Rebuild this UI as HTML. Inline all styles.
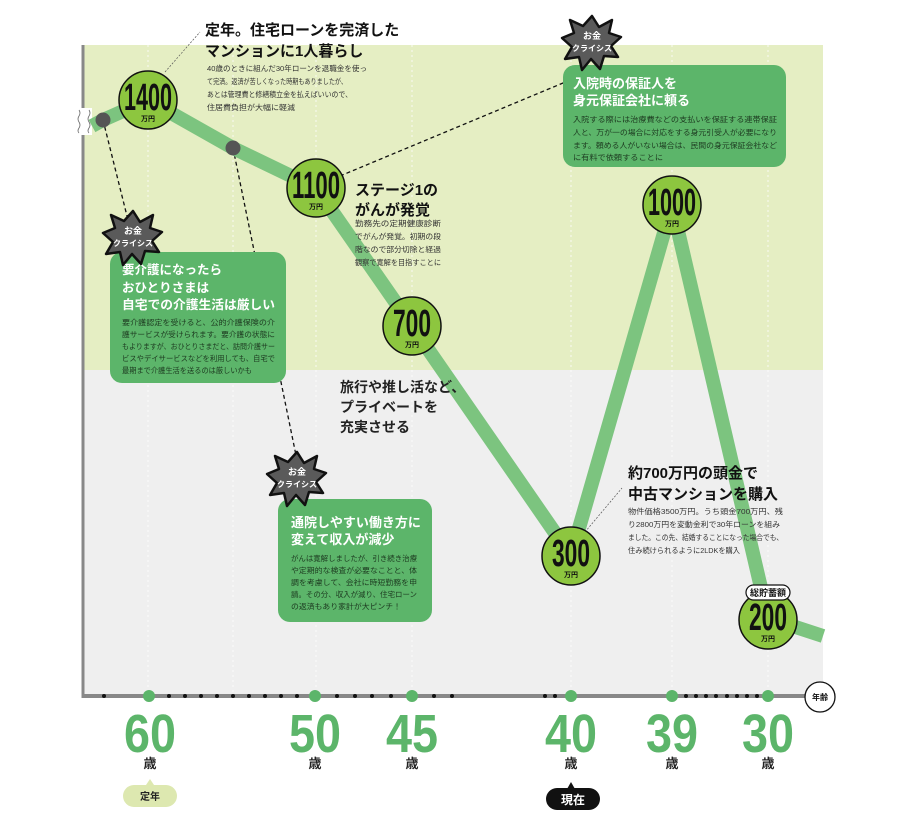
<!DOCTYPE html>
<html><head><meta charset="utf-8"><style>
html,body{margin:0;padding:0;background:#fff;}
svg{display:block;font-family:"Liberation Sans","Noto Sans CJK JP",sans-serif;}
.t{font-weight:bold;fill:#111;}
.b{font-size:7.5px;fill:#333;}
.w{font-weight:bold;fill:#fff;font-size:13px;}
.n{font-weight:bold;fill:#111;}
.age{font-weight:bold;fill:#5cb56a;font-size:54px;}
.sai{font-weight:bold;fill:#222;font-size:13px;}
</style></head><body>
<svg width="919" height="826" viewBox="0 0 919 826">
<defs>
<g id="burst">
<polygon points="0,-26 7,-15 20,-22 17,-9 29,-5 19,4 26,15 12,14 8,27 -1,17 -10,28 -13,15 -27,17 -20,5 -30,-4 -18,-9 -22,-22 -9,-16" fill="#5a5a5a" stroke="#111" stroke-width="2.5" stroke-linejoin="round"/>
<text x="0" y="-3" text-anchor="middle" font-size="9" font-weight="bold" fill="#fff">お金</text>
<text x="0" y="9" text-anchor="middle" font-size="8" font-weight="bold" fill="#fff">クライシス</text>
</g>
</defs>
<rect x="83" y="45" width="740" height="325" fill="#e5eec3"/>
<rect x="83" y="370" width="740" height="326" fill="#efefef"/>
<g stroke="#fff" stroke-width="1" stroke-dasharray="2,3" opacity="0.8">
<line x1="148" y1="45" x2="148" y2="694"/><line x1="233" y1="45" x2="233" y2="694"/>
<line x1="316" y1="45" x2="316" y2="694"/><line x1="412" y1="45" x2="412" y2="694"/>
<line x1="571" y1="45" x2="571" y2="694"/><line x1="672" y1="45" x2="672" y2="694"/>
<line x1="768" y1="45" x2="768" y2="694"/>
</g>
<line x1="83" y1="45" x2="83" y2="698" stroke="#888" stroke-width="3"/>
<rect x="76" y="108" width="16" height="27" fill="#fff"/>
<path d="M79,110 q2,3 0,6 q-2,3 0,6 q2,3 0,6 q-2,3 0,5" fill="none" stroke="#666" stroke-width="0.8"/>
<path d="M89,110 q2,3 0,6 q-2,3 0,6 q2,3 0,6 q-2,3 0,5" fill="none" stroke="#666" stroke-width="0.8"/>
<line x1="83" y1="696" x2="808" y2="696" stroke="#888" stroke-width="4"/>
<g stroke="#111" stroke-width="1.3" stroke-dasharray="4,3" fill="none">
<line x1="103" y1="120" x2="133" y2="240"/>
<line x1="233" y1="148" x2="298" y2="465"/>
<line x1="340" y1="176" x2="575" y2="78"/>
</g>
<g stroke="#555" stroke-width="0.7" stroke-dasharray="2,1.5" fill="none">
<line x1="165" y1="72" x2="200" y2="32"/>
<line x1="585" y1="532" x2="622" y2="488"/>
</g>
<polyline points="92,126 103,120 148,100 233,148 316,188 412,326 571,556 672,205 768,618 823,636" fill="none" stroke="#7cc47f" stroke-width="14" stroke-linejoin="round"/>
<circle cx="103" cy="120" r="7.5" fill="#555"/>
<circle cx="233" cy="148" r="7.5" fill="#555"/>
<g stroke="#111" stroke-width="1.5" fill="#8dc63f">
<circle cx="148" cy="100" r="29"/><circle cx="316" cy="188" r="29"/>
<circle cx="412" cy="326" r="29"/><circle cx="571" cy="556" r="29"/>
<circle cx="672" cy="205" r="29"/><circle cx="768" cy="620" r="29"/>
</g>
<g class="n">
<text x="124" y="110" font-size="38" textLength="48" lengthAdjust="spacingAndGlyphs">1400</text>
<text x="292" y="198" font-size="38" textLength="48" lengthAdjust="spacingAndGlyphs">1100</text>
<text x="393" y="336" font-size="38" textLength="38" lengthAdjust="spacingAndGlyphs">700</text>
<text x="552" y="566" font-size="38" textLength="38" lengthAdjust="spacingAndGlyphs">300</text>
<text x="648" y="215" font-size="38" textLength="48" lengthAdjust="spacingAndGlyphs">1000</text>
<text x="749" y="630" font-size="38" textLength="38" lengthAdjust="spacingAndGlyphs">200</text>
</g>
<g font-size="7" font-weight="bold" fill="#111" text-anchor="middle">
<text x="148" y="121">万円</text><text x="316" y="209">万円</text><text x="412" y="347">万円</text>
<text x="571" y="577">万円</text><text x="672" y="226">万円</text><text x="768" y="641">万円</text>
</g>
<rect x="746" y="585" width="44" height="15" rx="7.5" fill="#fff" stroke="#111" stroke-width="1.2"/>
<text x="768" y="596" text-anchor="middle" font-size="9" font-weight="bold" fill="#111">総貯蓄額</text>
<text class="t" x="205" y="35" font-size="15">定年。住宅ローンを完済した</text>
<text class="t" x="205" y="56" font-size="15">マンションに1人暮らし</text>
<g class="b">
<text x="207" y="71" textLength="160" lengthAdjust="spacingAndGlyphs">40歳のときに組んだ30年ローンを退職金を使っ</text>
<text x="207" y="84" textLength="140" lengthAdjust="spacingAndGlyphs">て完済。返済が苦しくなった時期もありましたが、</text>
<text x="207" y="97" textLength="145" lengthAdjust="spacingAndGlyphs">あとは管理費と修繕積立金を払えばいいので、</text>
<text x="207" y="110" textLength="88" lengthAdjust="spacingAndGlyphs">住居費負担が大幅に軽減</text>
</g>
<text class="t" x="355" y="195" font-size="15">ステージ1の</text>
<text class="t" x="355" y="215" font-size="15">がんが発覚</text>
<g class="b">
<text x="355" y="226" textLength="86" lengthAdjust="spacingAndGlyphs">勤務先の定期健康診断</text>
<text x="355" y="239" textLength="86" lengthAdjust="spacingAndGlyphs">でがんが発覚。初期の段</text>
<text x="355" y="252" textLength="86" lengthAdjust="spacingAndGlyphs">階なので部分切除と経過</text>
<text x="355" y="265" textLength="86" lengthAdjust="spacingAndGlyphs">観察で寛解を目指すことに</text>
</g>
<g font-size="14" font-weight="bold" fill="#222">
<text x="340" y="392">旅行や推し活など、</text>
<text x="340" y="412">プライベートを</text>
<text x="340" y="432">充実させる</text>
</g>
<rect x="110" y="252" width="176" height="131" rx="12" fill="#5cb56a"/>
<text class="w" x="122" y="274" font-size="12.5" style="font-size:12.5px">要介護になったら</text>
<text class="w" x="122" y="292" style="font-size:12.5px">おひとりさまは</text>
<text class="w" x="122" y="309" style="font-size:12.5px" textLength="153" lengthAdjust="spacingAndGlyphs">自宅での介護生活は厳しい</text>
<g class="b" style="fill:#1d3a20">
<text x="122" y="325" textLength="153" lengthAdjust="spacingAndGlyphs">要介護認定を受けると、公的介護保険の介</text>
<text x="122" y="337" textLength="153" lengthAdjust="spacingAndGlyphs">護サービスが受けられます。要介護の状態に</text>
<text x="122" y="349" textLength="153" lengthAdjust="spacingAndGlyphs">もよりますが、おひとりさまだと、訪問介護サー</text>
<text x="122" y="361" textLength="153" lengthAdjust="spacingAndGlyphs">ビスやデイサービスなどを利用しても、自宅で</text>
<text x="122" y="373" textLength="130" lengthAdjust="spacingAndGlyphs">最期まで介護生活を送るのは厳しいかも</text>
</g>
<use href="#burst" x="133" y="237"/>
<rect x="278" y="499" width="154" height="123" rx="12" fill="#5cb56a"/>
<text class="w" x="291" y="527">通院しやすい働き方に</text>
<text class="w" x="291" y="544">変えて収入が減少</text>
<g class="b" style="fill:#1d3a20">
<text x="291" y="561" textLength="126" lengthAdjust="spacingAndGlyphs">がんは寛解しましたが、引き続き治療</text>
<text x="291" y="573" textLength="126" lengthAdjust="spacingAndGlyphs">や定期的な検査が必要なことと、体</text>
<text x="291" y="585" textLength="126" lengthAdjust="spacingAndGlyphs">調を考慮して、会社に時短勤務を申</text>
<text x="291" y="597" textLength="126" lengthAdjust="spacingAndGlyphs">請。その分、収入が減り、住宅ローン</text>
<text x="291" y="609" textLength="110" lengthAdjust="spacingAndGlyphs">の返済もあり家計が大ピンチ！</text>
</g>
<use href="#burst" x="297" y="478"/>
<rect x="563" y="65" width="223" height="102" rx="12" fill="#5cb56a"/>
<text class="w" x="573" y="88">入院時の保証人を</text>
<text class="w" x="573" y="105">身元保証会社に頼る</text>
<g class="b" style="fill:#1d3a20">
<text x="573" y="122" textLength="204" lengthAdjust="spacingAndGlyphs">入院する際には治療費などの支払いを保証する連帯保証</text>
<text x="573" y="135" textLength="204" lengthAdjust="spacingAndGlyphs">人と、万が一の場合に対応をする身元引受人が必要になり</text>
<text x="573" y="148" textLength="204" lengthAdjust="spacingAndGlyphs">ます。頼める人がいない場合は、民間の身元保証会社など</text>
<text x="573" y="160" textLength="90" lengthAdjust="spacingAndGlyphs">に有料で依頼することに</text>
</g>
<use href="#burst" x="592" y="42"/>
<text class="t" x="628" y="478" font-size="15">約700万円の頭金で</text>
<text class="t" x="628" y="499" font-size="15">中古マンションを購入</text>
<g class="b">
<text x="628" y="514" textLength="155" lengthAdjust="spacingAndGlyphs">物件価格3500万円。うち頭金700万円、残</text>
<text x="628" y="527" textLength="152" lengthAdjust="spacingAndGlyphs">り2800万円を変動金利で30年ローンを組み</text>
<text x="628" y="540" textLength="155" lengthAdjust="spacingAndGlyphs">ました。この先、結婚することになった場合でも、</text>
<text x="628" y="553" textLength="112" lengthAdjust="spacingAndGlyphs">住み続けられるように2LDKを購入</text>
</g>
<g fill="#111">
<circle cx="104" cy="696" r="2"/>
<circle cx="169" cy="696" r="2"/><circle cx="185" cy="696" r="2"/><circle cx="201" cy="696" r="2"/><circle cx="217" cy="696" r="2"/><circle cx="233" cy="696" r="2"/><circle cx="249" cy="696" r="2"/><circle cx="265" cy="696" r="2"/><circle cx="281" cy="696" r="2"/><circle cx="297" cy="696" r="2"/>
<circle cx="337" cy="696" r="2"/><circle cx="355" cy="696" r="2"/><circle cx="372" cy="696" r="2"/><circle cx="391" cy="696" r="2"/>
<circle cx="434" cy="696" r="2"/><circle cx="452" cy="696" r="2"/>
<circle cx="545" cy="696" r="2"/><circle cx="555" cy="696" r="2"/>
<circle cx="686" cy="696" r="2"/><circle cx="696" cy="696" r="2"/><circle cx="706" cy="696" r="2"/><circle cx="716" cy="696" r="2"/><circle cx="727" cy="696" r="2"/><circle cx="737" cy="696" r="2"/><circle cx="747" cy="696" r="2"/><circle cx="757" cy="696" r="2"/>
</g>
<g fill="#5cb56a">
<circle cx="149" cy="696" r="6"/><circle cx="315" cy="696" r="6"/><circle cx="412" cy="696" r="6"/>
<circle cx="571" cy="696" r="6"/><circle cx="672" cy="696" r="6"/><circle cx="768" cy="696" r="6"/>
</g>
<circle cx="820" cy="697" r="15" fill="#fff" stroke="#111" stroke-width="1.3"/>
<text x="820" y="700" text-anchor="middle" font-size="8" font-weight="bold" fill="#111">年齢</text>
<g text-anchor="middle">
<text class="age" x="150" y="752" textLength="52" lengthAdjust="spacingAndGlyphs">60</text>
<text class="age" x="315" y="752" textLength="52" lengthAdjust="spacingAndGlyphs">50</text>
<text class="age" x="412" y="752" textLength="52" lengthAdjust="spacingAndGlyphs">45</text>
<text class="age" x="571" y="752" textLength="52" lengthAdjust="spacingAndGlyphs">40</text>
<text class="age" x="672" y="752" textLength="52" lengthAdjust="spacingAndGlyphs">39</text>
<text class="age" x="768" y="752" textLength="52" lengthAdjust="spacingAndGlyphs">30</text>
<text class="sai" x="150" y="768">歳</text><text class="sai" x="315" y="768">歳</text>
<text class="sai" x="412" y="768">歳</text><text class="sai" x="571" y="768">歳</text>
<text class="sai" x="672" y="768">歳</text><text class="sai" x="768" y="768">歳</text>
</g>
<polygon points="146,785 150,779 154,785" fill="#dde8b0"/>
<rect x="123" y="785" width="54" height="22" rx="11" fill="#dde8b0"/>
<text x="150" y="800" text-anchor="middle" font-size="10" font-weight="bold" fill="#222">定年</text>
<polygon points="567,789 571,782 575,789" fill="#111"/>
<rect x="546" y="788" width="54" height="22" rx="11" fill="#111"/>
<text x="573" y="804" text-anchor="middle" font-size="12" font-weight="bold" fill="#fff">現在</text>
</svg>
</body></html>
